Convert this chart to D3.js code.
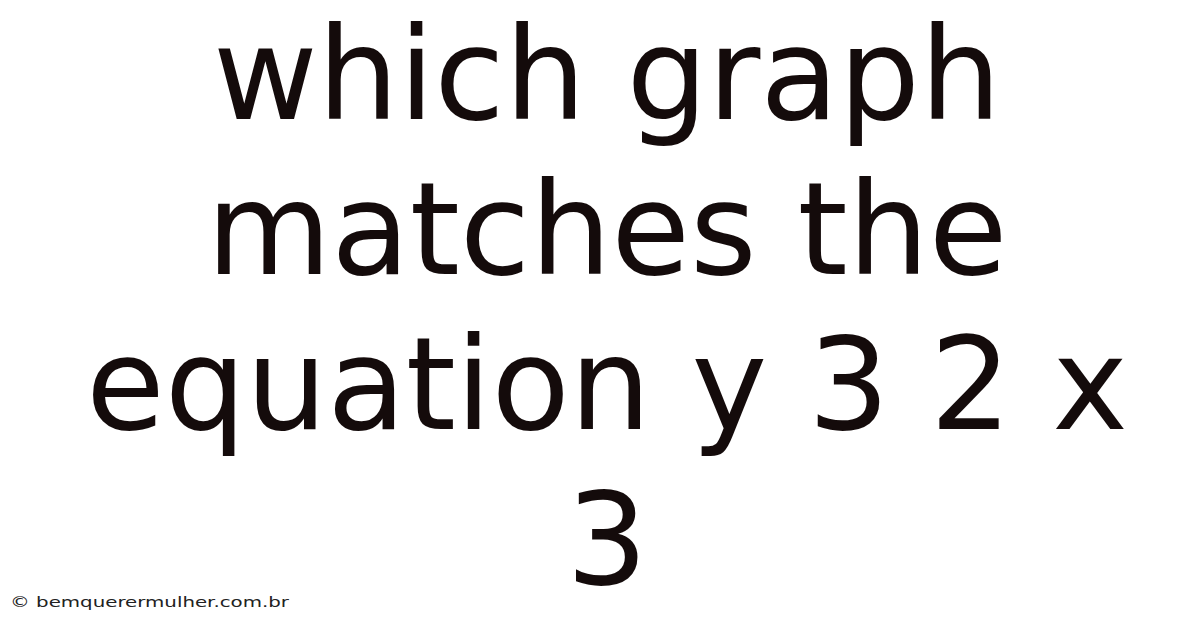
<!DOCTYPE html>
<html>
<head>
<meta charset="utf-8">
<script src="https://cdn.jsdelivr.net/npm/d3@7"></script>
<style>
  body { margin: 0; background: #fff; }
</style>
</head>
<body>
<script>
var width = 1200
var height = 628

// title lines and the site credit
var titleLines = ['which graph', 'matches the', 'equation y 3 2 x', '3']
var credit = '\u00a9 bemquerermulher.com.br'

var svg = d3.select('body').append('svg')
  .attr('width', width)
  .attr('height', height)

svg.append('rect')
  .attr('width', width)
  .attr('height', height)
  .attr('fill', '#ffffff')

var y = d3.scalePoint()
  .domain(d3.range(titleLines.length))
  .range([119, 584])

svg.selectAll('.title-line')
  .data(titleLines)
  .enter()
  .append('text')
  .attr('class', 'title-line')
  .attr('x', 607)
  .attr('y', function (d, i) { return y(i) })
  .attr('text-anchor', 'middle')
  .style('font-family', '"DejaVu Sans", sans-serif')
  .style('font-size', '128px')
  .style('fill', '#140b0b')
  .text(function (d) { return d })

// the credit is drawn wide, so stretch glyphs to the reference's span
svg.append('text')
  .attr('x', 10)
  .attr('y', 607)
  .attr('textLength', 279)
  .attr('lengthAdjust', 'spacingAndGlyphs')
  .style('font-family', '"DejaVu Sans", sans-serif')
  .style('font-size', '14px')
  .style('fill', '#222')
  .text(credit)
</script>
</body>
</html>
